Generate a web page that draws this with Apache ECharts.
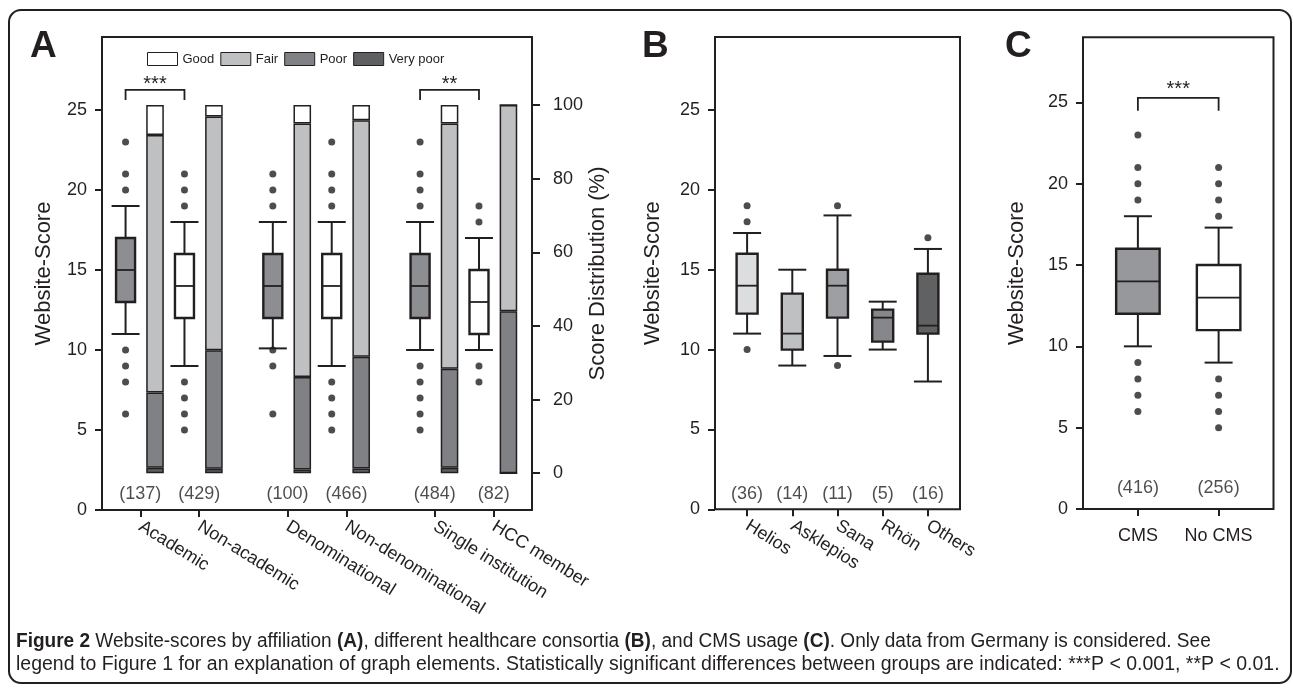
<!DOCTYPE html>
<html><head><meta charset="utf-8">
<script src="https://cdn.jsdelivr.net/npm/echarts@6/dist/echarts.min.js"></script>
<style>html,body{margin:0;padding:0;background:#fff}#c{width:1293px;height:688px}</style>
</head><body><div id="c"></div>
<script>
// ---------- data ----------
const scoreTicks = [0, 5, 10, 15, 20, 25];
const pctTicks = [0, 20, 40, 60, 80, 100];

const groupsA = ['Academic', 'Non-academic', 'Denominational', 'Non-denominational', 'Single institution', 'HCC member'];
const countsA = [137, 429, 100, 466, 484, 82];
// [lower whisker, Q1, median, Q3, upper whisker]
const boxA = [
  [11, 13, 15, 17, 19],
  [9, 12, 14, 16, 18],
  [10.1, 12, 14, 16, 18],
  [9, 12, 14, 16, 18],
  [10, 12, 14, 16, 18],
  [10, 11, 13, 15, 17]
];
const outliersA = [
  [23, 21, 20, 10, 9, 8, 6],
  [21, 20, 19, 8, 7, 6, 5],
  [21, 20, 19, 10, 9, 6],
  [23, 21, 20, 19, 8, 7, 6, 5],
  [23, 21, 20, 19, 9, 8, 7, 6, 5],
  [19, 18, 9, 8]
];
const distGood = [8.1, 3.1, 5.0, 4.1, 5.0, 0];
const distFair = [70.0, 63.5, 68.9, 64.3, 66.6, 56.0];
const distPoor = [20.4, 32.2, 25.1, 30.3, 26.9, 44.0];
const distVeryPoor = [1.5, 1.2, 1.0, 1.3, 1.5, 0];
const sigPairsA = [[0, 1], [4, 5]];
const sigLabelsA = ['***', '**'];
const sigLevelA = 26.25;

const groupsB = ['Helios', 'Asklepios', 'Sana', 'Rhön', 'Others'];
const countsB = [36, 14, 11, 5, 16];
const boxB = [
  [11, 12.25, 14, 16, 17.3],
  [9, 10, 11, 13.5, 15],
  [9.6, 12, 14, 15, 18.4],
  [10, 10.5, 12, 12.5, 13],
  [8, 11, 11.5, 14.75, 16.3]
];
const outliersB = [[19, 18, 10], [], [19, 9], [], [17]];

const groupsC = ['CMS', 'No CMS'];
const countsC = [416, 256];
const boxC = [
  [10, 12, 14, 16, 18],
  [9, 11, 13, 15, 17.3]
];
const outliersC = [
  [23, 21, 20, 19, 9, 8, 7, 6],
  [21, 20, 19, 18, 8, 7, 6, 5]
];
const sigPairsC = [[0, 1]];
const sigLabelsC = ['***'];
const sigLevelC = 25.28;

const captionLine1 = '{b|Figure 2} Website-scores by affiliation {b|(A)}, different healthcare consortia {b|(B)}, and CMS usage {b|(C)}. Only data from Germany is considered. See';
const captionLine2 = 'legend to Figure 1 for an explanation of graph elements. Statistically significant differences between groups are indicated: ***P < 0.001, **P < 0.01.';

// ---------- styles ----------
const INK = '#231f20';
const FONT = '"Liberation Sans", Arial, Helvetica, sans-serif';
const fillA = ['#8d8e91', '#ffffff', '#8d8e91', '#ffffff', '#8d8e91', '#ffffff'];
const fillB = ['#dcdddf', '#bfc0c2', '#9e9fa2', '#86878a', '#606163'];
const fillC = ['#97989b', '#ffffff'];
const distColors = { 'Good': '#ffffff', 'Fair': '#bfc0c2', 'Poor': '#808184', 'Very poor': '#5e5f61' };

// panel A layout: (box, bar) pairs, grouped two pairs per block with a gap slot
const slotA = i => Math.floor(i / 2) * 5 + (i % 2) * 2;
const nSlotsA = 14;
const tickPosA = groupsA.map((g, i) => slotA(i) + 0.5);
const idx = arr => arr.map((_, i) => i);
const slotNames = Array.from({ length: nSlotsA }, (_, k) => 's' + k);

function boxRender(fills, boxW, capW) {
  return function (params, api) {
    const x = api.value(0);
    const lo = api.coord([x, api.value(1)]);
    const q1 = api.coord([x, api.value(2)]);
    const md = api.coord([x, api.value(3)]);
    const q3 = api.coord([x, api.value(4)]);
    const hi = api.coord([x, api.value(5)]);
    const cx = lo[0];
    const st = { stroke: INK, lineWidth: 2 };
    return {
      type: 'group', children: [
        { type: 'line', shape: { x1: cx, y1: hi[1], x2: cx, y2: q3[1] }, style: st },
        { type: 'line', shape: { x1: cx, y1: q1[1], x2: cx, y2: lo[1] }, style: st },
        { type: 'line', shape: { x1: cx - capW / 2, y1: hi[1], x2: cx + capW / 2, y2: hi[1] }, style: st },
        { type: 'line', shape: { x1: cx - capW / 2, y1: lo[1], x2: cx + capW / 2, y2: lo[1] }, style: st },
        { type: 'rect', shape: { x: cx - boxW / 2, y: q3[1], width: boxW, height: q1[1] - q3[1] },
          style: { fill: fills[params.dataIndex], stroke: INK, lineWidth: 2.4 } },
        { type: 'line', shape: { x1: cx - boxW / 2, y1: md[1], x2: cx + boxW / 2, y2: md[1] },
          style: { stroke: INK, lineWidth: 1.8 } }
      ]
    };
  };
}

function bracketRender(labels, drop, gap) {
  return function (params, api) {
    const a = api.coord([api.value(0), api.value(2)]);
    const b = api.coord([api.value(1), api.value(2)]);
    return {
      type: 'group', children: [
        { type: 'polyline', shape: { points: [[a[0], a[1] + drop], a, b, [b[0], b[1] + drop]] },
          style: { stroke: INK, lineWidth: 1.8, fill: 'none' } },
        { type: 'text', style: { text: labels[params.dataIndex], x: (a[0] + b[0]) / 2, y: a[1] - gap,
          align: 'center', verticalAlign: 'middle', font: '20px ' + FONT, fill: INK } }
      ]
    };
  };
}

function countSeries(xi, yi, pos, counts, dy) {
  return {
    type: 'scatter', xAxisIndex: xi, yAxisIndex: yi, symbolSize: 1, silent: true,
    itemStyle: { color: 'rgba(0,0,0,0)' },
    data: counts.map((c, i) => [pos(i), 0, c]),
    label: { show: true, position: 'inside', offset: [0, -dy], formatter: p => '(' + p.data[2] + ')',
      color: INK, fontSize: 18, fontFamily: FONT }
  };
}

function outlierSeries(xi, yi, pos, outl) {
  return {
    type: 'scatter', xAxisIndex: xi, yAxisIndex: yi, symbolSize: 7, silent: true,
    itemStyle: { color: INK },
    data: outl.flatMap((arr, i) => arr.map(v => [pos(i), v]))
  };
}

const axisLblStyle = { color: INK, fontSize: 18, fontFamily: FONT };
const tickStyle = { color: INK, width: 2 };
const noLine = { show: false, onZero: false };
function yAxisScore(gridIndex, max, gap) {
  return {
    type: 'value', gridIndex, min: 0, max,
    axisLine: noLine, splitLine: { show: false },
    axisTick: { show: true, length: 7, lineStyle: tickStyle, customValues: scoreTicks },
    axisLabel: { ...axisLblStyle, margin: 15, customValues: scoreTicks },
    name: 'Website-Score', nameLocation: 'middle', nameRotate: 90, nameGap: gap,
    nameTextStyle: { color: INK, fontSize: 22, fontFamily: FONT }
  };
}

const distNames = ['Very poor', 'Poor', 'Fair', 'Good'];
const distData = { 'Very poor': distVeryPoor, 'Poor': distPoor, 'Fair': distFair, 'Good': distGood };
function distSlots(values) {
  const out = slotNames.map(() => '-');
  values.forEach((v, i) => { out[slotA(i) + 1] = v; });
  return out;
}

// panel A geometry: value axis from -0.8 to 13.8 over 430px; the bar grid uses the same slots as a category axis
const A_LEFT = 102, A_W = 430, A_MIN = -0.8, A_MAX = 13.8;
const A_UNIT = A_W / (A_MAX - A_MIN);
const BAR_LEFT = A_LEFT + (-0.5 - A_MIN) * A_UNIT;

const option = {
  animation: false,
  backgroundColor: '#ffffff',
  grid: [
    { left: A_LEFT, top: 37, width: A_W, height: 473, show: true, borderColor: INK, borderWidth: 2, outerBoundsMode: 'none', containLabel: false },
    { left: 715, top: 37, width: 245, height: 472.3, show: true, borderColor: INK, borderWidth: 2, outerBoundsMode: 'none', containLabel: false },
    { left: 1083, top: 37.3, width: 190.5, height: 471.7, show: true, borderColor: INK, borderWidth: 2, outerBoundsMode: 'none', containLabel: false },
    { left: BAR_LEFT, top: 37, width: nSlotsA * A_UNIT, height: 473, show: false, outerBoundsMode: 'none', containLabel: false }
  ],
  legend: {
    left: 142, top: 47, itemWidth: 30, itemHeight: 13, itemGap: 6, icon: 'rect', selectedMode: false,
    data: ['Good', 'Fair', 'Poor', 'Very poor'],
    itemStyle: { borderColor: INK, borderWidth: 1 },
    textStyle: { color: INK, fontSize: 13, fontFamily: FONT, width: 43 }
  },
  xAxis: [
    { type: 'value', gridIndex: 0, min: A_MIN, max: A_MAX, axisLine: noLine, splitLine: { show: false },
      axisTick: { show: true, length: 7, lineStyle: tickStyle, customValues: tickPosA },
      axisLabel: { ...axisLblStyle, rotate: -32, margin: 15, customValues: tickPosA,
        formatter: v => groupsA[tickPosA.indexOf(v)] || '' } },
    { type: 'value', gridIndex: 1, min: -0.71, max: 4.71, axisLine: noLine, splitLine: { show: false },
      axisTick: { show: true, length: 7, lineStyle: tickStyle, customValues: idx(groupsB) },
      axisLabel: { ...axisLblStyle, rotate: -32, margin: 15, customValues: idx(groupsB),
        formatter: v => groupsB[Math.round(v)] || '' } },
    { type: 'value', gridIndex: 2, min: -0.68, max: 1.68, axisLine: noLine, splitLine: { show: false },
      axisTick: { show: true, length: 7, lineStyle: tickStyle, customValues: idx(groupsC) },
      axisLabel: { ...axisLblStyle, margin: 18, customValues: idx(groupsC),
        formatter: v => groupsC[Math.round(v)] || '' } },
    { type: 'category', gridIndex: 3, data: slotNames, show: false, boundaryGap: true }
  ],
  yAxis: [
    yAxisScore(0, 29.56, 47),
    { type: 'value', gridIndex: 0, position: 'right', min: -10, max: 118.5,
      axisLine: noLine, splitLine: { show: false },
      axisTick: { show: true, length: 8, lineStyle: tickStyle, customValues: pctTicks },
      axisLabel: { ...axisLblStyle, margin: 21, customValues: pctTicks },
      name: 'Score Distribution (%)', nameLocation: 'middle', nameRotate: 90, nameGap: 53,
      nameTextStyle: { color: INK, fontSize: 22, fontFamily: FONT } },
    yAxisScore(1, 29.57, 51),
    yAxisScore(2, 29.0, 55),
    { type: 'value', gridIndex: 3, min: -10, max: 118.5, show: false, splitLine: { show: false } }
  ],
  series: [
    ...distNames.map(n => ({
      type: 'bar', name: n, xAxisIndex: 3, yAxisIndex: 4, stack: 'dist', barWidth: 17.6, silent: true,
      itemStyle: { color: distColors[n], borderColor: INK, borderWidth: 1.5 },
      data: distSlots(distData[n])
    })),
    { type: 'custom', xAxisIndex: 0, yAxisIndex: 0, renderItem: boxRender(fillA, 19, 28), silent: true,
      encode: { x: 0, y: [1, 2, 3, 4, 5] }, data: boxA.map((b, i) => [slotA(i), ...b]) },
    outlierSeries(0, 0, slotA, outliersA),
    countSeries(0, 0, i => slotA(i) + 0.5, countsA, 16),
    { type: 'custom', xAxisIndex: 0, yAxisIndex: 0, renderItem: bracketRender(sigLabelsA, 10, 5), silent: true,
      encode: { x: [0, 1], y: 2 }, data: sigPairsA.map(p => [slotA(p[0]), slotA(p[1]), sigLevelA]) },

    { type: 'custom', xAxisIndex: 1, yAxisIndex: 2, renderItem: boxRender(fillB, 21, 28), silent: true,
      encode: { x: 0, y: [1, 2, 3, 4, 5] }, data: boxB.map((b, i) => [i, ...b]) },
    outlierSeries(1, 2, i => i, outliersB),
    countSeries(1, 2, i => i, countsB, 15),

    { type: 'custom', xAxisIndex: 2, yAxisIndex: 3, renderItem: boxRender(fillC, 43.5, 28), silent: true,
      encode: { x: 0, y: [1, 2, 3, 4, 5] }, data: boxC.map((b, i) => [i, ...b]) },
    outlierSeries(2, 3, i => i, outliersC),
    countSeries(2, 3, i => i, countsC, 20.7),
    { type: 'custom', xAxisIndex: 2, yAxisIndex: 3, renderItem: bracketRender(sigLabelsC, 13, 8), silent: true,
      encode: { x: [0, 1], y: 2 }, data: sigPairsC.map(p => [p[0], p[1], sigLevelC]) }
  ],
  graphic: [
    { type: 'rect', z: -1, silent: true, shape: { x: 9, y: 10, width: 1282, height: 673, r: 12 },
      style: { fill: 'none', stroke: INK, lineWidth: 2 } },
    { type: 'text', left: 30, top: 28, silent: true, style: { text: 'A', font: 'bold 37px ' + FONT, fill: INK } },
    { type: 'text', left: 642, top: 28, silent: true, style: { text: 'B', font: 'bold 37px ' + FONT, fill: INK } },
    { type: 'text', left: 1005, top: 28, silent: true, style: { text: 'C', font: 'bold 37px ' + FONT, fill: INK } },
    { type: 'text', x: 16, y: 641, scaleX: 0.952, silent: true,
      style: { text: captionLine1, x: 0, y: 0, verticalAlign: 'middle',
        font: '20px ' + FONT, fill: INK, rich: { b: { fontWeight: 'bold', fontSize: 20, fontFamily: FONT } } } },
    { type: 'text', x: 16, y: 664, scaleX: 0.975, silent: true,
      style: { text: captionLine2, x: 0, y: 0, verticalAlign: 'middle', font: '20px ' + FONT, fill: INK } }
  ]
};

const chart = echarts.init(document.getElementById('c'), null, { renderer: 'canvas' });
chart.setOption(option);
</script>
</body></html>
